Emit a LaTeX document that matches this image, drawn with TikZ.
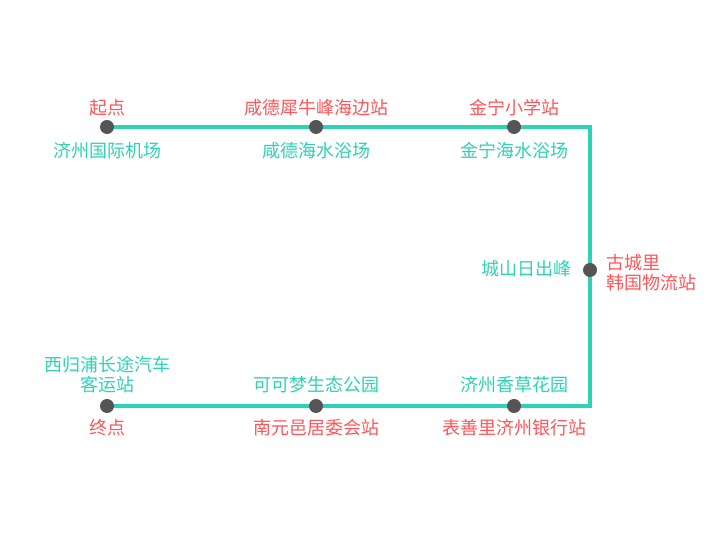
\documentclass[tikz,border=0pt]{standalone}
\usepackage{fontspec}
\setmainfont{Noto Sans CJK SC}
\usepackage{xcolor}
\usetikzlibrary{positioning}
\usetikzlibrary{backgrounds}
\definecolor{routegreen}{HTML}{2ED2B5}
\definecolor{stopred}{HTML}{FF5558}
\definecolor{dotgray}{HTML}{555555}

\begin{document}
\begin{tikzpicture}[
                	    x = 1pt, y = 1pt,
                		stop/.style = { circle, fill = dotgray, inner sep=0pt, outer sep=0pt, minimum width = 14pt },
                		stopname/.style = { font = \fontsize{18}{20}\selectfont, text = stopred, inner sep=0pt, outer sep=0pt, text height = 15pt, text depth = 3pt, align = center },
                		place/.style = { stopname, text = routegreen },
                		route/.style = { draw = routegreen, line width = 4pt, line join = miter },
            		]
            		    \useasboundingbox (0,0) rectangle (720,540);
            		    % stations
            		    \node[stop] (Start) at (107,413) {};
            		    \node[stop] (Xiande) at (316,413) {};
            		    \node[stop] (Jinning) at (514,413) {};
            		    \node[stop] (Gucheng) at (590,270) {};
            		    \node[stop] (Biaoseon) at (514,134) {};
            		    \node[stop] (Namwon) at (316,134) {};
            		    \node[stop] (End) at (107,134) {};
            		    \coordinate (NE) at (590,413);
            		    \coordinate (SE) at (590,134);
            		    % line
            		    \begin{scope}[on background layer]
            		        \draw[route] (Start.center) -- (Xiande.center) -- (Jinning.center) -- (NE) -- (Gucheng.center) -- (SE) -- (Biaoseon.center) -- (Namwon.center) -- (End.center);
            		    \end{scope}
            		    % labels
            		    \node[stopname, above=2pt of Start] (StartName) {起点};
            		    \node[place, below=9pt of Start] (StartPlace) {济州国际机场};
            		    \node[stopname, above=2pt of Xiande] (XiandeName) {咸德犀牛峰海边站};
            		    \node[place, below=9pt of Xiande] (XiandePlace) {咸德海水浴场};
            		    \node[stopname, above=2pt of Jinning] (JinningName) {金宁小学站};
            		    \node[place, below=9pt of Jinning] (JinningPlace) {金宁海水浴场};
            		    \node[stopname, align=left, right=9pt of Gucheng, yshift=-14pt] (GuchengName) {古城里\\韩国物流站};
            		    \node[place, left=12pt of Gucheng] (GuchengPlace) {城山日出峰};
            		    \node[place, above=4pt of Biaoseon] (BiaoseonPlace) {济州香草花园};
            		    \node[stopname, below=7pt of Biaoseon] (BiaoseonName) {表善里济州银行站};
            		    \node[place, above=4pt of Namwon] (NamwonPlace) {可可梦生态公园};
            		    \node[stopname, below=7pt of Namwon] (NamwonName) {南元邑居委会站};
            		    \node[place, above=4pt of End] (EndPlace) {西归浦长途汽车\\客运站};
            		    \node[stopname, below=7pt of End] (EndName) {终点};
            		\end{tikzpicture}
\end{document}
